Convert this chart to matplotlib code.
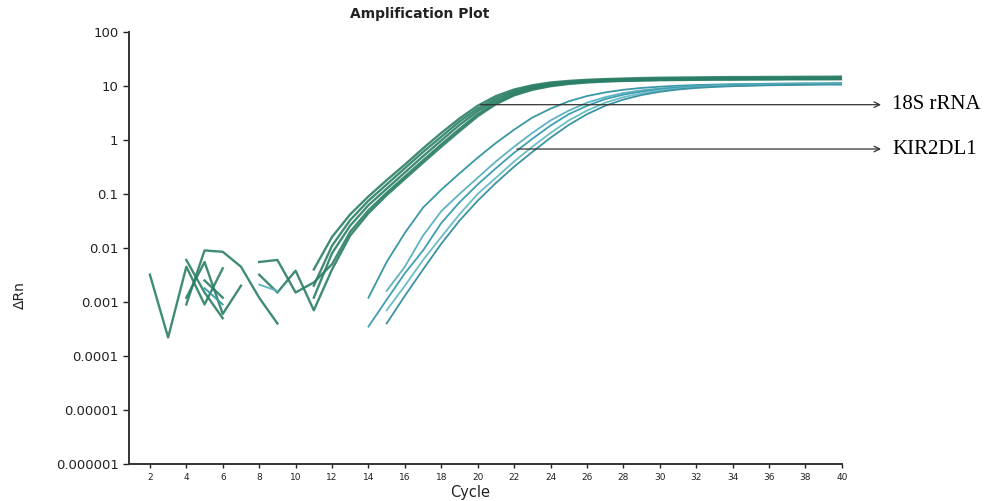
import numpy as np
import matplotlib
matplotlib.use("Agg")
import matplotlib.pyplot as plt

nan = np.nan
cycles = np.arange(1, 41)

# 18S rRNA curves (cycle 1..40), nan = not shown on log scale
g1 = [nan, 0.0032, 0.00022, 0.0045, 0.0009, 0.0042, nan, nan, nan, nan,
      0.004, 0.016, 0.042, 0.09, 0.18, 0.35, 0.7, 1.35, 2.5, 4.3,
      6.5, 8.6, 10.3, 11.6, 12.4, 13.0, 13.4, 13.7, 14.0, 14.2,
      14.3, 14.4, 14.5, 14.6, 14.6, 14.7, 14.7, 14.8, 14.8, 14.9]
g2 = [nan, nan, nan, 0.0012, 0.0055, 0.0006, 0.002, nan, nan, nan,
      0.002, 0.011, 0.033, 0.075, 0.15, 0.3, 0.6, 1.15, 2.2, 3.8,
      5.9, 8.0, 9.8, 11.1, 12.0, 12.6, 13.0, 13.3, 13.5, 13.7,
      13.8, 13.9, 14.0, 14.0, 14.1, 14.1, 14.2, 14.2, 14.2, 14.3]
g3 = [nan, nan, nan, 0.0009, 0.009, 0.0085, 0.0045, 0.0012, 0.0004, nan,
      0.0012, 0.008, 0.026, 0.062, 0.125, 0.25, 0.5, 0.98, 1.9, 3.4,
      5.4, 7.5, 9.3, 10.7, 11.6, 12.2, 12.6, 12.9, 13.1, 13.3,
      13.4, 13.5, 13.6, 13.6, 13.7, 13.7, 13.8, 13.8, 13.8, 13.9]
g4 = [nan, nan, nan, 0.006, 0.0015, 0.0005, nan, 0.0055, 0.006, 0.0015,
      0.0023, 0.005, 0.02, 0.05, 0.105, 0.21, 0.42, 0.83, 1.6, 3.0,
      4.9, 7.0, 8.8, 10.2, 11.2, 11.9, 12.3, 12.6, 12.8, 13.0,
      13.1, 13.2, 13.3, 13.3, 13.4, 13.4, 13.5, 13.5, 13.5, 13.6]
g5 = [nan, nan, nan, nan, 0.0025, 0.0012, nan, 0.0032, 0.0015, 0.0038,
      0.0007, 0.004, 0.017, 0.044, 0.095, 0.19, 0.38, 0.75, 1.45, 2.75,
      4.6, 6.7, 8.5, 9.9, 10.9, 11.6, 12.1, 12.4, 12.6, 12.8,
      12.9, 13.0, 13.1, 13.1, 13.2, 13.2, 13.3, 13.3, 13.3, 13.3]

# KIR2DL1 curves (cycle 1..40)
k1 = [nan, nan, nan, nan, 0.0018, 0.0009, nan, nan, nan, nan,
      nan, nan, nan, 0.0012, 0.0055, 0.019, 0.056, 0.12, 0.24, 0.47,
      0.88, 1.55, 2.6, 3.8, 5.2, 6.5, 7.6, 8.5, 9.2, 9.7,
      10.1, 10.4, 10.6, 10.8, 10.9, 11.0, 11.1, 11.2, 11.2, 11.3]
k2 = [nan, nan, nan, nan, nan, nan, nan, 0.0021, 0.0016, nan,
      nan, nan, nan, nan, 0.0016, 0.0045, 0.017, 0.048, 0.1, 0.2,
      0.4, 0.75, 1.35, 2.3, 3.5, 4.9, 6.2, 7.4, 8.3, 9.0,
      9.6, 10.0, 10.3, 10.5, 10.7, 10.8, 10.9, 11.0, 11.0, 11.1]
k3 = [nan, nan, nan, nan, nan, nan, nan, nan, nan, nan,
      nan, nan, nan, 0.00035, 0.0011, 0.0034, 0.009, 0.029, 0.07, 0.15,
      0.3, 0.58, 1.05, 1.85, 3.0, 4.3, 5.7, 6.9, 7.9, 8.7,
      9.3, 9.8, 10.1, 10.4, 10.6, 10.7, 10.8, 10.9, 11.0, 11.0]
k4 = [nan, nan, nan, nan, nan, nan, nan, nan, nan, nan,
      nan, nan, nan, nan, 0.0007, 0.002, 0.006, 0.016, 0.042, 0.1,
      0.2, 0.4, 0.75, 1.35, 2.3, 3.5, 4.9, 6.2, 7.3, 8.2,
      8.9, 9.4, 9.8, 10.1, 10.3, 10.5, 10.6, 10.7, 10.8, 10.8]
k5 = [nan, nan, nan, nan, nan, nan, nan, nan, nan, nan,
      nan, nan, nan, nan, 0.0004, 0.0013, 0.004, 0.012, 0.032, 0.075,
      0.16, 0.32, 0.6, 1.1, 1.9, 3.0, 4.3, 5.6, 6.8, 7.8,
      8.6, 9.2, 9.6, 9.9, 10.1, 10.3, 10.4, 10.5, 10.6, 10.6]

green = [g1, g2, g3, g4, g5]
cyan = [k1, k2, k3, k4, k5]
cyan_cols = ["#3a97a6", "#5fb3c0", "#3f9fb0", "#6cbcc6", "#3b93a3"]

y_ticks = [1e-6, 1e-5, 1e-4, 1e-3, 1e-2, 1e-1, 1, 10, 100]
y_labels = ["0.000001", "0.00001", "0.0001", "0.001", "0.01", "0.1", "1", "10", "100"]
x_ticks = list(range(2, 41, 2))

fig = plt.figure(figsize=(10.06, 5.01), dpi=100)
ax = fig.add_axes([0.1282, 0.0739, 0.7087, 0.8623])

for s in green:
    ax.plot(cycles, s, color="#2b7f66", lw=1.7, alpha=0.9)
for s, c in zip(cyan, cyan_cols):
    ax.plot(cycles, s, color=c, lw=1.3)

ax.set_yscale("log")
ax.set_ylim(1e-6, 100)
ax.set_xlim(0.85, 40)
ax.set_yticks(y_ticks)
ax.set_yticklabels(y_labels)
ax.minorticks_off()
ax.set_xticks(x_ticks)
ax.tick_params(axis="y", labelsize=9.5, length=4, width=1, colors="#222")
ax.tick_params(axis="x", labelsize=6.5, length=3, width=1, colors="#222")
for sp in ["top", "right"]:
    ax.spines[sp].set_visible(False)
for sp in ["left", "bottom"]:
    ax.spines[sp].set_linewidth(1.4)
    ax.spines[sp].set_color("#333")

# arrows with labels
ax.annotate("", xy=(42.3, 4.5), xytext=(20, 4.5), annotation_clip=False,
            arrowprops=dict(arrowstyle="->", lw=0.9, color="#333"))
ax.annotate("", xy=(42.3, 0.68), xytext=(22, 0.68), annotation_clip=False,
            arrowprops=dict(arrowstyle="->", lw=0.9, color="#333"))
ax.text(42.75, 4.5, "18S rRNA", fontsize=15, family="Liberation Serif",
        va="center", ha="left", clip_on=False)
ax.text(42.75, 0.68, "KIR2DL1", fontsize=15, family="Liberation Serif",
        va="center", ha="left", clip_on=False)

fig.text(420 / 1006, 1 - 14 / 501, "Amplification Plot", fontsize=10,
         fontweight="semibold", ha="center", va="center", color="#222")
fig.text(20 / 1006, 1 - 295 / 501, "ΔRn", fontsize=10, rotation=90,
         ha="center", va="center", color="#222")
fig.text(470 / 1006, 1 - 492 / 501, "Cycle", fontsize=10.5,
         ha="center", va="center", color="#222")

fig.savefig("out.png", dpi=100)
